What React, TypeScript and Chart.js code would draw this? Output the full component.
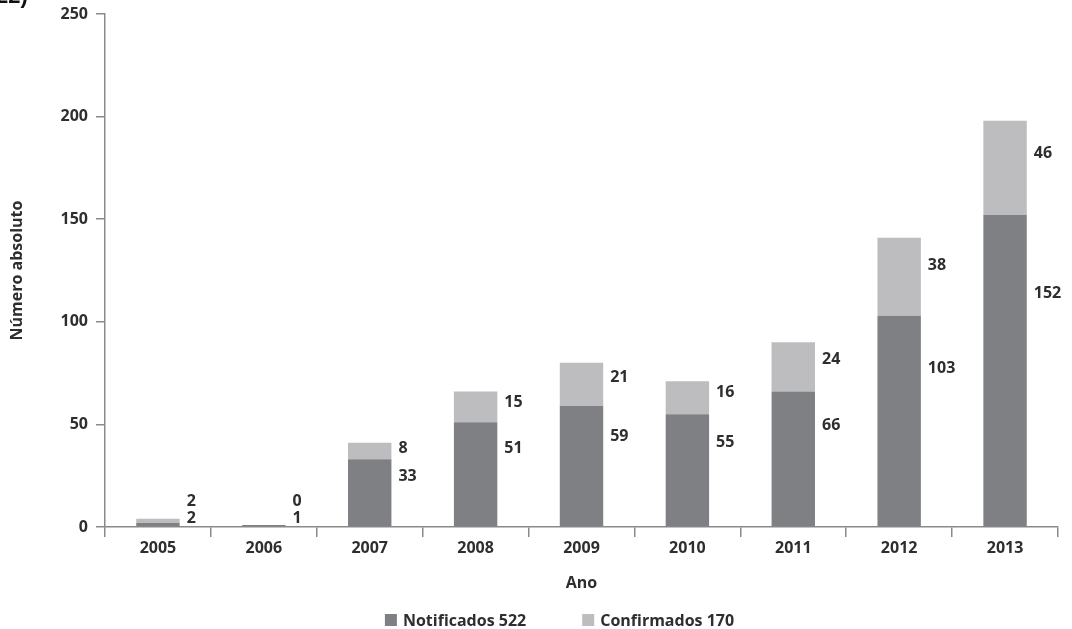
import React, { useEffect, useRef } from 'react';
import { Chart, registerables } from 'chart.js';

Chart.register(...registerables);

const years = ['2005', '2006', '2007', '2008', '2009', '2010', '2011', '2012', '2013'];
const notificados = [2, 1, 33, 51, 59, 55, 66, 103, 152];
const confirmados = [2, 0, 8, 15, 21, 16, 24, 38, 46];
const seriesNames = ['Notificados 522', 'Confirmados 170'];
const yAxisTitle = 'Número absoluto';
const xAxisTitle = 'Ano';

const DARK = '#7f8084';
const LIGHT = '#bdbdbf';
const TEXT = '#2e2e2e';
const AXIS = '#8a8a8a';
const FONT_FAMILY = '"Open Sans", "Noto Sans", sans-serif';

const valueLabelsPlugin = {
  id: 'valueLabels',
  afterDatasetsDraw(chart: any) {
    const ctx = chart.ctx;
    const yScale = chart.scales.y;
    const m0 = chart.getDatasetMeta(0).data;
    const m1 = chart.getDatasetMeta(1).data;
    ctx.save();
    ctx.font = `bold 16px ${FONT_FAMILY}`;
    ctx.fillStyle = TEXT;
    ctx.textAlign = 'left';
    ctx.textBaseline = 'middle';
    for (let i = 0; i < years.length; i++) {
      const b0 = m0[i];
      const b1 = m1[i];
      const x = b0.x + b0.width / 2 + 7;
      const darkY = Math.min(yScale.getPixelForValue(notificados[i] * 0.75), b0.base - 8);
      const segMid = (b1.y + b1.base) / 2 - (b1.base - b1.y) * 0.15;
      const lightY = Math.min(segMid, darkY - 17);
      ctx.fillText(String(notificados[i]), x, darkY);
      ctx.fillText(String(confirmados[i]), x, lightY);
    }
    ctx.restore();
  },
};

const customLegendPlugin = {
  id: 'customLegend',
  afterDraw(chart: any) {
    const ctx = chart.ctx;
    const area = chart.chartArea;
    ctx.save();
    ctx.font = `bold 16px ${FONT_FAMILY}`;
    ctx.textBaseline = 'middle';
    ctx.textAlign = 'left';
    const box = 12;
    const gapBoxText = 6;
    const gapItems = 56;
    const colors = [DARK, LIGHT];
    const widths = seriesNames.map((t) => box + gapBoxText + ctx.measureText(t).width);
    const total = widths[0] + gapItems + widths[1];
    const center = (area.left + area.right) / 2 - 22;
    let x = center - total / 2;
    const y = 620;
    seriesNames.forEach((t, i) => {
      ctx.fillStyle = colors[i];
      ctx.fillRect(x, y - box / 2, box, box);
      ctx.fillStyle = TEXT;
      ctx.fillText(t, x + box + gapBoxText, y + 1);
      x += widths[i] + gapItems;
    });
    ctx.restore();
  },
};

export default function App() {
  const canvasRef = useRef<HTMLCanvasElement | null>(null);

  useEffect(() => {
    if (!canvasRef.current) return;
    const tickFont = { family: FONT_FAMILY, size: 16, weight: 'bold' as any };
    const chart = new Chart(canvasRef.current, {
      type: 'bar',
      data: {
        labels: years,
        datasets: [
          {
            label: seriesNames[0],
            data: notificados,
            backgroundColor: DARK,
            barPercentage: 0.41,
            categoryPercentage: 1,
            borderWidth: 0,
          },
          {
            label: seriesNames[1],
            data: confirmados,
            backgroundColor: LIGHT,
            barPercentage: 0.41,
            categoryPercentage: 1,
            borderWidth: 0,
          },
        ],
      },
      options: {
        responsive: false,
        animation: false,
        layout: { padding: { top: 14, right: 14, bottom: 30, left: 0 } },
        plugins: {
          legend: { display: false },
          tooltip: { enabled: false },
        },
        scales: {
          x: {
            stacked: true,
            offset: true,
            grid: {
              display: true,
              drawOnChartArea: false,
              drawTicks: true,
              tickLength: 10,
              color: AXIS,
              lineWidth: 1.5,
              offset: true,
            },
            border: { display: true, color: AXIS, width: 1.5 },
            ticks: { font: tickFont, color: TEXT, padding: 2, maxRotation: 0 },
            title: {
              display: true,
              text: xAxisTitle,
              font: tickFont,
              color: TEXT,
              padding: { top: 0, bottom: 6 },
            },
            afterFit: (s: any) => {
              s.height = 72;
            },
          },
          y: {
            stacked: true,
            min: 0,
            max: 250,
            grid: {
              display: true,
              drawOnChartArea: false,
              drawTicks: true,
              tickLength: 9,
              color: AXIS,
              lineWidth: 1.5,
            },
            border: { display: true, color: AXIS, width: 1.5 },
            ticks: { stepSize: 50, font: tickFont, color: TEXT, padding: 8 },
            title: {
              display: true,
              text: yAxisTitle,
              font: { family: FONT_FAMILY, size: 16, weight: 'bold' as any },
              color: TEXT,
              padding: { top: 8, bottom: 0 },
            },
            afterFit: (s: any) => {
              s.width = 105;
              s.paddingTop = 0;
              s.paddingBottom = 0;
            },
          },
        },
      },
      plugins: [valueLabelsPlugin, customLegendPlugin],
    });
    return () => chart.destroy();
  }, []);

  return (
    <div
      style={{
        position: 'fixed',
        left: 0,
        top: 0,
        width: 1072,
        height: 629,
        overflow: 'hidden',
        background: '#ffffff',
      }}
    >
      <div
        style={{
          position: 'absolute',
          left: -4,
          top: -15,
          fontFamily: '"Liberation Sans", Arial, sans-serif',
          fontWeight: 'bold',
          fontSize: 22,
          lineHeight: 1,
          color: '#111',
        }}
      >
        22)
      </div>
      <canvas ref={canvasRef} width={1072} height={629} style={{ display: 'block', width: 1072, height: 629 }} />
    </div>
  );
}
